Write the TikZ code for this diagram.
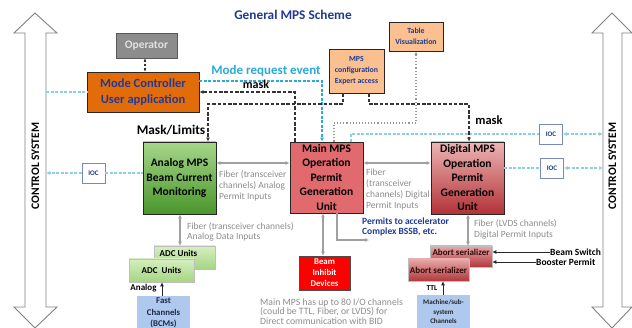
\documentclass[tikz,border=0pt]{standalone}
\usepackage{fontspec}
\setmainfont{Carlito}
\usetikzlibrary{arrows.meta}
\definecolor{navy}{HTML}{1F3A93}
\definecolor{grtxt}{HTML}{8C8C8C}
\definecolor{grline}{HTML}{A0A0A0}
\definecolor{cyanA}{HTML}{2AAAD8}
\definecolor{cyanB}{HTML}{8CCFE6}
\definecolor{dashk}{HTML}{333333}
\definecolor{orangeA}{HTML}{E36C0A}
\definecolor{peach}{HTML}{FAC08F}
\definecolor{mainred}{HTML}{E06A6E}
\definecolor{lblue}{HTML}{AFC8EE}
\definecolor{agtop}{HTML}{A5D688}
\definecolor{agbot}{HTML}{4A962C}
\definecolor{adctop}{HTML}{D6EEC0}
\definecolor{adcbot}{HTML}{A5D682}
\definecolor{dgtop}{HTML}{ECB4B4}
\definecolor{dgbot}{HTML}{B23237}
\definecolor{abtop}{HTML}{E8A8A8}
\definecolor{abbot}{HTML}{B0383C}
\definecolor{abtxt}{HTML}{320A0A}
\definecolor{fasttxt}{HTML}{1E2846}
\newcommand{\fs}[2]{\fontsize{#1}{#2}\selectfont}
\tikzset{
  >={Latex[length=4pt,width=4pt]},
  bx/.style={draw=black!85, line width=0.9pt, inner sep=0pt, align=center, font=\bfseries},
  blkdash/.style={draw=dashk, line width=1.5pt, dash pattern=on 3.5pt off 1.8pt},
  cyandash/.style={draw=cyanA, line width=1.3pt, dash pattern=on 3pt off 1.5pt},
  ioclink/.style={draw=cyanB, line width=1.5pt, dash pattern=on 3pt off 1.5pt},
  grarrow/.style={draw=grline, line width=1.6pt},
  hollow/.style={draw=black!50, fill=white, line width=0.9pt, line join=miter},
  ioc/.style={draw=navy!60, fill=white, line width=0.7pt, inner sep=0pt, font=\bfseries\fs{7}{8}, text=navy, minimum width=23pt, minimum height=20pt},
  graytext/.style={inner sep=0pt, align=left, text=grtxt, font=\fs{9.5}{11}},
  lbl/.style={inner sep=0pt, font=\bfseries},
}
\begin{document}
\begin{tikzpicture}[x=1pt,y=-1pt]
\useasboundingbox (0,0) rectangle (632,328);
% control system arrows
\draw[hollow] (35,13) -- (57,33) -- (46,33) -- (46,307) -- (57,307) -- (35,328) -- (14,307) -- (25,307) -- (25,33) -- (14,33) -- cycle;
\draw[hollow] (612,13) -- (632,33) -- (622,33) -- (622,307) -- (632,307) -- (612,328) -- (592,307) -- (603,307) -- (603,33) -- (592,33) -- cycle;
\node[lbl, rotate=90, font=\bfseries\fs{11.5}{13}] (csl) at (35.5,166) {CONTROL SYSTEM};
\node[lbl, rotate=90, font=\bfseries\fs{11.5}{13}] (csr) at (612.5,166) {CONTROL SYSTEM};
\coordinate (LS) at (46,0);
\coordinate (RS) at (603,0);
% title
\node[lbl, text=navy, font=\bfseries\fs{13.3}{15}] (title) at (293,15) {General MPS Scheme};
% boxes
\node[bx, draw=black!65, fill=black!45, text=black!12, font=\bfseries\fs{11.5}{13}, minimum width=61pt, minimum height=25pt] (op) at (146.5,45.5) {Operator};
\node[bx, fill=orangeA, text=navy, font=\bfseries\fs{12.5}{16}, minimum width=112pt, minimum height=40pt] (mc) at (143,92) {Mode Controller\\User application};
\node[bx, fill=peach, text=navy, font=\bfseries\fs{7.8}{11}, minimum width=55pt, minimum height=44pt] (cfg) at (356.5,71) {MPS\\configuration\\Expert access};
\node[bx, fill=peach, text=navy, font=\bfseries\fs{7.8}{11}, minimum width=54pt, minimum height=29pt] (tab) at (416,36.5) {Table\\Visualization};
\node[bx, top color=agtop, bottom color=agbot, font=\bfseries\fs{11.5}{14.5}, minimum width=73pt, minimum height=72pt] (amps) at (179.5,178) {Analog MPS\\Beam Current\\Monitoring};
\node[bx, fill=mainred, font=\bfseries\fs{11.5}{14.5}, minimum width=73pt, minimum height=71pt] (main) at (326.5,177.5) {Main MPS\\Operation\\Permit\\Generation\\Unit};
\node[bx, top color=dgtop, bottom color=dgbot, font=\bfseries\fs{11.5}{14.5}, minimum width=73pt, minimum height=72pt] (dig) at (467.5,178) {Digital MPS\\Operation\\Permit\\Generation\\Unit};
\node[ioc] (iocL) at (93.5,173) {IOC};
\node[ioc] (iocR1) at (551,134) {IOC};
\node[ioc] (iocR2) at (552,168) {IOC};
\node[bx, draw=black!25, line width=0.6pt, top color=adctop, bottom color=adcbot, minimum width=61pt, minimum height=23pt] (adc2) at (184.5,257.5) {};
\node[lbl, font=\bfseries\fs{9}{10}] (adc2t) at (178.5,253.5) {ADC Units};
\node[bx, draw=black!25, line width=0.6pt, top color=adctop, bottom color=adcbot, font=\bfseries\fs{9}{10}, minimum width=65pt, minimum height=23pt] (adc1) at (161.5,270.5) {ADC\ \ Units};
\node[bx, draw=none, fill=lblue, text=fasttxt, font=\bfseries\fs{8.8}{11.5}, minimum width=53pt, minimum height=34pt] (fast) at (163.5,313) {Fast\\Channels\\(BCMs)};
\node[bx, draw=black!70, line width=0.6pt, fill=red, text=white, font=\bfseries\fs{8.8}{11}, minimum width=51pt, minimum height=34pt] (bid) at (324.5,273) {Beam\\Inhibit\\Devices};
\node[bx, draw=black!25, line width=0.6pt, top color=abtop, bottom color=abbot, minimum width=62pt, minimum height=21pt] (ab2) at (461,256.5) {};
\node[lbl, text=abtxt, font=\bfseries\fs{9}{10}] (ab2t) at (461,252.5) {Abort serializer};
\node[bx, draw=black!25, line width=0.6pt, top color=abtop, bottom color=abbot, text=abtxt, font=\bfseries\fs{9}{10}, minimum width=61pt, minimum height=22pt] (ab1) at (438.5,270) {Abort serializer};
\node[bx, draw=none, fill=lblue, text=black!85, font=\bfseries\fs{7}{9.5}, minimum width=53pt, minimum height=34pt] (mach) at (443.5,312) {Machine/sub-\\system\\Channels};
% operator link
\coordinate (opx) at (145,0);
\draw[draw=dashk, line width=1.2pt, dotted, {Latex[length=3pt,width=3pt]}-{Latex[length=3pt,width=3pt]}] (op.south -| opx) -- (mc.north -| opx);
% cyan links
\draw[ioclink] (LS |- mc.west) -- (mc.west);
\coordinate (mre) at (322,81);
\draw[cyandash, ->] (mc.east |- mre) -- (mre) -- (mre |- main.north);
\node[lbl, text=cyanA, font=\bfseries\fs{13}{14}] (mretxt) at (266,71) {Mode request event};
\coordinate (q) at (351,134);
\draw[ioclink] (q |- main.north) -- (q) -- (iocR1.west);
\draw[ioclink, <->] (iocR1.east) -- (iocR1.east -| RS);
\draw[ioclink] (dig.east |- iocR2.west) -- (iocR2.west);
\draw[ioclink, <->] (iocR2.east) -- (iocR2.east -| RS);
\draw[ioclink, ->] (iocL.west) -- (iocL.west -| LS);
\draw[ioclink] (iocL.east) -- (iocL.east -| amps.west);
% mask lines
\coordinate (mk) at (295,92);
\draw[blkdash, ->] (mk |- main.north) -- (mk) -- (mk -| mc.east);
\node[lbl, font=\bfseries\fs{12}{13}] (masktxt1) at (256,84) {mask};
\coordinate (c1) at (343,104);
\coordinate (c1b) at (208,104);
\draw[blkdash, ->] (c1 |- cfg.south) -- (c1) -- (c1b) -- (c1b |- amps.north);
\node[lbl, font=\bfseries\fs{13.3}{14}] (mltxt) at (171,130) {Mask/Limits};
\coordinate (c2) at (369,104);
\coordinate (c2b) at (469,104);
\draw[blkdash, ->] (c2 |- cfg.south) -- (c2) -- (c2b) -- (c2b |- dig.north);
\node[lbl, font=\bfseries\fs{12.5}{14}] (masktxt2) at (489,120) {mask};
% dotted to table
\coordinate (d1) at (334,123);
\coordinate (d2) at (416,123);
\draw[draw=black!40, line width=1.1pt, dotted, -{Latex[length=3.5pt,width=3.5pt]}] (d1 |- main.north) -- (d1) -- (d2) -- (d2 |- tab.south);
% gray fiber arrows
\coordinate (g1) at (250,163);
\draw[grarrow, <->] (amps.east |- g1) -- (main.west |- g1);
\draw[grarrow, <->] (main.east |- g1) -- (dig.west |- g1);
\coordinate (g2) at (180,230);
\draw[grarrow, <->] (amps.south -| g2) -- (adc2.north -| g2);
\coordinate (g3) at (323,230);
\draw[grarrow, <->] (main.south -| g3) -- (bid.north -| g3);
\coordinate (g4) at (337,240);
\coordinate (g5) at (369,240);
\draw[grarrow, ->] (main.south -| g4) -- (g4) -- (g5);
\coordinate (g6) at (468,230);
\draw[grarrow, <->] (dig.south -| g6) -- (ab2.north -| g6);
% gray texts
\node[graytext, anchor=west] (t1) at (219,186) {Fiber (transceiver\\channels) Analog\\Permit Inputs};
\node[graytext, anchor=west] (t2) at (366,189.5) {Fiber\\(transceiver\\channels) Digital\\Permit Inputs};
\node[graytext, anchor=west, font=\fs{9.5}{10.5}] (t3) at (187,232) {Fiber (transceiver channels)\\Analog Data Inputs};
\node[graytext, anchor=west] (t4) at (474,229.5) {Fiber (LVDS channels)\\Digital Permit Inputs};
\node[graytext, anchor=west, text=navy, font=\bfseries\fs{9.5}{10.5}] (t5) at (362,227) {Permits to accelerator\\Complex BSSB, etc.};
\node[graytext, anchor=west, font=\fs{9.7}{9.8}] (t6) at (260,311.5) {Main MPS has up to 80 I/O channels\\(could be TTL, Fiber, or LVDS) for\\Direct communication with BID};
% black input arrows
\coordinate (fx) at (162,0);
\coordinate (mx) at (443,0);
\draw[draw=black!85, line width=0.8pt, ->] (fast.north -| fx) -- (adc1.south -| fx);
\node[lbl, font=\bfseries\fs{9}{10}] (antxt) at (143.5,288) {Analog};
\draw[draw=black!85, line width=0.8pt, ->] (mach.north -| mx) -- (ab1.south -| mx);
\node[lbl, font=\bfseries\fs{7.5}{9}] (ttltxt) at (432,288) {TTL};
\node[lbl, anchor=west, font=\bfseries\fs{9.5}{10}] (bs) at (550,252) {Beam Switch};
\node[lbl, anchor=west, font=\bfseries\fs{9.5}{10}] (bp) at (536,262) {Booster Permit};
\draw[draw=black!85, line width=0.8pt, ->] (bs.west) -- (bs.west -| ab2.east);
\draw[draw=black!85, line width=0.8pt, ->] (bp.west) -- (bp.west -| ab2.east);
\end{tikzpicture}
\end{document}
